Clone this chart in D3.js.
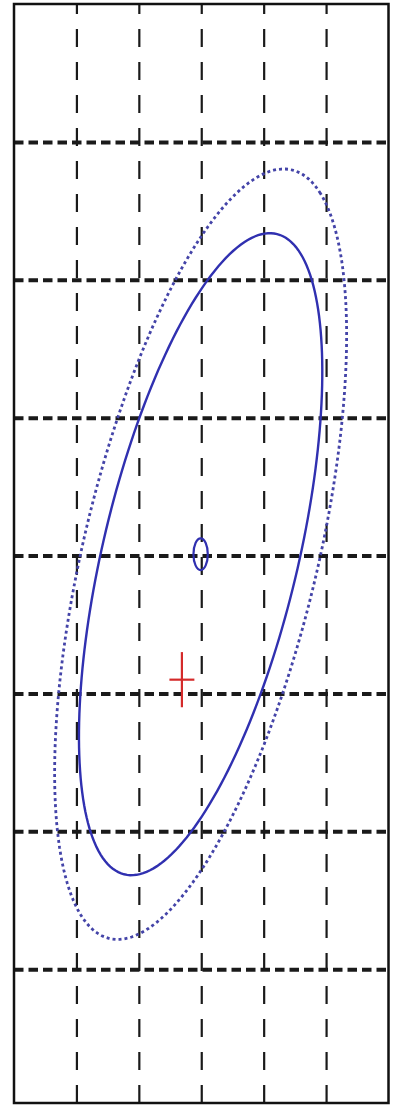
<!DOCTYPE html>
<html>
<head>
<meta charset="utf-8">
<script src="https://cdn.jsdelivr.net/npm/d3@7"></script>
<style>
body{margin:0;background:white}
svg{display:block}
</style>
</head>
<body>
<svg></svg>
<script>

// grid ticks (no labels in the picture)
var xTicks = [-2,-1,0,1,2]
var yTicks = [-3,-2,-1,0,1,2,3]

// fitted gaussian: mean and covariance [sxx, sxy, syy]
var mean = [-0.01, 0.01]
var cov = [3.80, 2.58, 5.42]
// contour levels, solid then dotted
var levels = [1, 1.2]
var markerRadius = 0.115

// sample mean marker (red plus)
var sampleMean = [-0.31, -0.90]
var plusSize = 0.2

var screen = {width:393,height:1106}
var box = {left:14,right:388.5,top:4,bottom:1103}

var svg = d3.select("svg")
    .attr("width",screen.width)
    .attr("height",screen.height)

var xScale = d3.scaleLinear()
    .domain([-3,3])
    .range([box.left,box.right])
var yScale = d3.scaleLinear()
    .domain([-3.97,4])
    .range([box.bottom,box.top])

// vertical grid
var xGrid = d3.axisBottom(xScale)
    .tickValues(xTicks)
    .tickSize(-(box.bottom-box.top))
    .tickFormat("")
svg.append("g")
    .attr("class","xgrid")
    .attr("transform","translate(0,"+box.bottom+")")
    .call(xGrid)
svg.select(".xgrid .domain").remove()
svg.selectAll(".xgrid line")
    .attr("stroke","#1a1a1a")
    .attr("stroke-width",2.2)
    .attr("stroke-dasharray","18,15")

// horizontal grid
var yGrid = d3.axisLeft(yScale)
    .tickValues(yTicks)
    .tickSize(-(box.right-box.left))
    .tickFormat("")
svg.append("g")
    .attr("class","ygrid")
    .attr("transform","translate("+box.left+",0)")
    .call(yGrid)
svg.select(".ygrid .domain").remove()
svg.selectAll(".ygrid line")
    .attr("stroke","#1a1a1a")
    .attr("stroke-width",4)
    .attr("stroke-dasharray","9.5,5")

// ellipse points from the covariance
var ellipsePoints = function(k)
{
    var a = cov[0], b = cov[1], c = cov[2]
    var tr = (a+c)/2
    var d = Math.sqrt(((a-c)/2)*((a-c)/2)+b*b)
    var l1 = tr+d, l2 = tr-d
    var ang = Math.atan2(l1-a, b)
    var pts = []
    for(var i=0;i<200;i++){
        var t = i/200*2*Math.PI
        var u = k*Math.sqrt(l1)*Math.cos(t)
        var v = k*Math.sqrt(l2)*Math.sin(t)
        pts.push([mean[0]+u*Math.cos(ang)-v*Math.sin(ang),
                  mean[1]+u*Math.sin(ang)+v*Math.cos(ang)])
    }
    return pts
}

var line = d3.line()
    .x(function(p){return xScale(p[0])})
    .y(function(p){return yScale(p[1])})
    .curve(d3.curveLinearClosed)

svg.selectAll(".contour")
    .data(levels)
    .enter()
    .append("path")
    .attr("class","contour")
    .attr("d",function(k){return line(ellipsePoints(k))})
    .attr("fill","none")
    .attr("stroke",function(k,i){return i==0 ? "#3030b0" : "#4444a8"})
    .attr("stroke-width",function(k,i){return i==0 ? 2.4 : 2.8})
    .attr("stroke-dasharray",function(k,i){return i==0 ? null : "3,3"})

// small circle at the mean
svg.append("ellipse")
    .attr("cx",xScale(mean[0]))
    .attr("cy",yScale(mean[1]))
    .attr("rx",xScale(markerRadius)-xScale(0))
    .attr("ry",yScale(0)-yScale(markerRadius))
    .attr("fill","none")
    .attr("stroke","#3030b0")
    .attr("stroke-width",2.2)

// red plus
var plus = svg.append("g").attr("class","plus")
plus.append("line")
    .attr("x1",xScale(sampleMean[0]-plusSize))
    .attr("x2",xScale(sampleMean[0]+plusSize))
    .attr("y1",yScale(sampleMean[1]))
    .attr("y2",yScale(sampleMean[1]))
plus.append("line")
    .attr("x1",xScale(sampleMean[0]))
    .attr("x2",xScale(sampleMean[0]))
    .attr("y1",yScale(sampleMean[1]-plusSize))
    .attr("y2",yScale(sampleMean[1]+plusSize))
plus.selectAll("line")
    .attr("stroke","#d42a2a")
    .attr("stroke-width",2.2)

// frame
svg.append("rect")
    .attr("x",box.left)
    .attr("y",box.top)
    .attr("width",box.right-box.left)
    .attr("height",box.bottom-box.top)
    .attr("fill","none")
    .attr("stroke","#111")
    .attr("stroke-width",2.5)

</script>
</body>
</html>
